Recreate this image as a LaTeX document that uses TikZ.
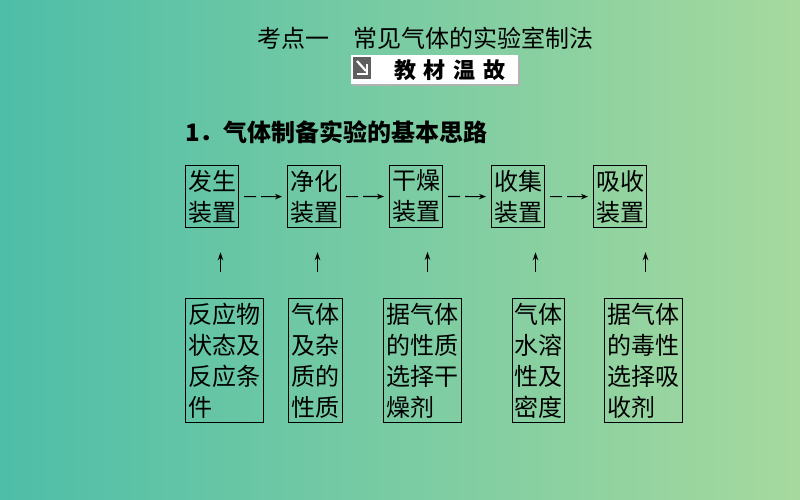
\documentclass[tikz,border=0pt]{standalone}
\usepackage{fontspec}
\usepackage{xcolor}
\usepackage{tikz}
\usetikzlibrary{positioning}
\usetikzlibrary{calc,arrows.meta}
\setmainfont{Noto Sans CJK SC}
\newfontfamily\cjk{Noto Sans CJK SC}

\definecolor{BgLeft}{RGB}{78,190,168}
\definecolor{BgRight}{RGB}{166,217,158}
\definecolor{IconGray}{RGB}{95,95,95}

\tikzset{
	stage/.style = {draw, line width=1pt, inner xsep=2.5pt, inner ysep=4.5pt, align=left, anchor=north west, font=\cjk\fontsize{24pt}{31pt}\selectfont},
	flow/.style = {line width=1.1pt, dash pattern=on 12pt off 5pt on 40pt off 1pt, -{Stealth[length=7pt,width=5.5pt]}, shorten <=5pt, shorten >=5pt},
	hint/.style = {line width=1.3pt, -{Stealth[length=8pt,width=5.5pt]}, shorten <=26pt, shorten >=24pt}
}

\begin{document}
\begin{tikzpicture}[x=1pt, y=-1pt]

	%Background
	\fill[left color=BgLeft, right color=BgRight] (0,0) rectangle (800,500);
	\useasboundingbox (0,0) rectangle (800,500);

	%Titles
	\node[font=\cjk\fontsize{24pt}{24pt}\selectfont] (Title) at (425,38) {考点一　常见气体的实验室制法};

	\fill[gray!60] (353,57) rectangle (520,86);
	\fill[white] (351,55) rectangle (518,84);
	\fill[IconGray] (353,57) rectangle (371,79);
	\draw[white, line width=2.2pt] (357,61) -- (366,71);
	\draw[white, line width=2.2pt] (357,74) -- (367,74) -- (367,64);
	\node[font=\cjk\bfseries\fontsize{22pt}{22pt}\selectfont] (Badge) at (450,70) {教\hspace{8pt}材\hspace{8pt}温\hspace{8pt}故};

	\node[anchor=west, inner sep=0pt, font=\cjk\bfseries\fontsize{24pt}{24pt}\selectfont] (Head) at (185,132) {1．气体制备实验的基本思路};

	%Devices
	\node[stage] (Gen) at (185,165) {发生\\装置};
	\node[stage] (Pur) at (287,165) {净化\\装置};
	\node[stage] (Dry) at (389,165) {干燥\\装置};
	\node[stage] (Col) at (491,165) {收集\\装置};
	\node[stage] (Abs) at (593,165) {吸收\\装置};

	%Reasons
	\node[stage, inner xsep=3pt] (GenR) at (185,298) {反应物\\状态及\\反应条\\件};
	\node[stage, inner xsep=3pt] (PurR) at (288,298) {气体\\及杂\\质的\\性质};
	\node[stage, inner xsep=3pt] (DryR) at (383,298) {据气体\\的性质\\选择干\\燥剂};
	\node[stage, inner xsep=2pt] (ColR) at (512,298) {气体\\水溶\\性及\\密度};
	\node[stage, inner xsep=3pt] (AbsR) at (604,298) {据气体\\的毒性\\选择吸\\收剂};

	%Connectors
	\draw[flow] (Gen.east) -- (Pur.west);
	\draw[flow] (Pur.east) -- (Dry.west);
	\draw[flow] (Dry.east) -- (Col.west);
	\draw[flow] (Col.east) -- (Abs.west);

	\draw[hint] ([xshift=-4pt]GenR.north) -- ([xshift=-4pt]GenR.north |- Gen.south);
	\draw[hint] ([xshift=2pt]PurR.north) -- ([xshift=2pt]PurR.north |- Pur.south);
	\draw[hint] ([xshift=5pt]DryR.north) -- ([xshift=5pt]DryR.north |- Dry.south);
	\draw[hint] ([xshift=-3pt]ColR.north) -- ([xshift=-3pt]ColR.north |- Col.south);
	\draw[hint] ([xshift=2pt]AbsR.north) -- ([xshift=2pt]AbsR.north |- Abs.south);

\end{tikzpicture}
\end{document}
